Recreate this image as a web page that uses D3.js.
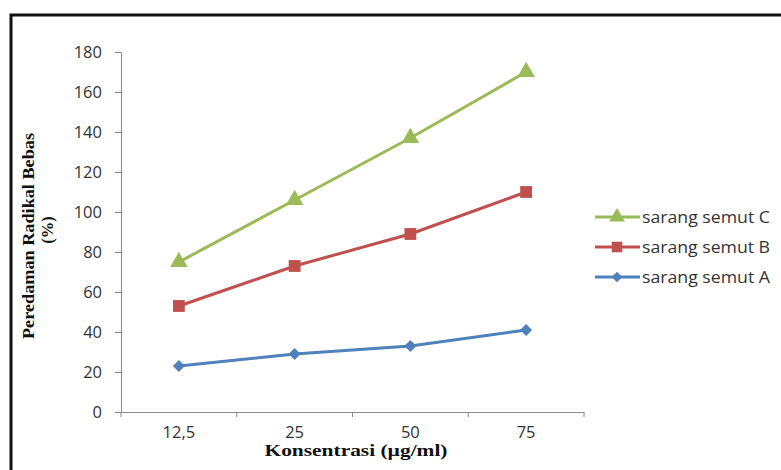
<!DOCTYPE html>
<html>
<head>
<meta charset="utf-8">
<script src="https://d3js.org/d3.v7.min.js"></script>
<style>
    body { margin: 0; background: #fff; }
    .tick text { font-family: "Open Sans", sans-serif; font-size: 16.5px; fill: #333; }
    .axis-title { font-family: "Liberation Serif", "Times New Roman", serif; font-weight: bold; fill: #111; }
    .legend text { font-family: "Open Sans", sans-serif; font-size: 16px; fill: #333; }
</style>
</head>
<body>
<script>
    // data
    var categories = ["12,5", "25", "50", "75"];
    var seriesNames = ["sarang semut C", "sarang semut B", "sarang semut A"];
    var valuesC = [75, 106, 137, 170];
    var valuesB = [53, 73, 89, 110];
    var valuesA = [23, 29, 33, 41];
    var yTicks = [0, 20, 40, 60, 80, 100, 120, 140, 160, 180];

    var width = 781, height = 470;
    var plot = { left: 121, right: 584, top: 52, bottom: 412 };

    var series = [
        { name: seriesNames[0], values: valuesC, color: "#9BBB59", shape: d3.symbolTriangle, size: 135, rot: 0 },
        { name: seriesNames[1], values: valuesB, color: "#C0504D", shape: d3.symbolSquare, size: 140, rot: 0 },
        { name: seriesNames[2], values: valuesA, color: "#4F81BD", shape: d3.symbolSquare, size: 72, rot: 45 }
    ];

    var svg = d3.select("body").append("svg")
        .attr("width", width)
        .attr("height", height);

    svg.append("rect")
        .attr("width", width).attr("height", height)
        .attr("fill", "#fff");

    // frame (right & bottom edges fall outside the picture)
    svg.append("rect")
        .attr("x", 11).attr("y", 15)
        .attr("width", 820).attr("height", 520)
        .attr("fill", "none")
        .attr("stroke", "#111")
        .attr("stroke-width", 3);

    var x = d3.scaleBand()
        .domain(categories)
        .range([plot.left, plot.right]);

    var y = d3.scaleLinear()
        .domain([0, 180])
        .range([plot.bottom, plot.top]);

    // y axis
    var yAxis = svg.append("g")
        .attr("transform", "translate(" + plot.left + ",0)")
        .call(d3.axisLeft(y).tickValues(yTicks).tickSize(6).tickPadding(13));
    yAxis.selectAll("line, path").attr("stroke", "#8a8a8a");

    // x axis: labels centred, ticks on the category boundaries
    var xAxis = svg.append("g")
        .attr("transform", "translate(0," + plot.bottom + ")")
        .call(d3.axisBottom(x).tickSize(0).tickPadding(14));
    xAxis.select("path").attr("stroke", "#8a8a8a");
    xAxis.selectAll(".boundary")
        .data(d3.range(categories.length + 1))
        .enter().append("line")
        .attr("x1", function (i) { return plot.left + i * x.step(); })
        .attr("x2", function (i) { return plot.left + i * x.step(); })
        .attr("y1", 0).attr("y2", 5)
        .attr("stroke", "#8a8a8a");

    // axis titles
    svg.append("text")
        .attr("class", "axis-title")
        .attr("x", 356).attr("y", 456)
        .attr("text-anchor", "middle")
        .attr("font-size", 16)
        .attr("textLength", 183)
        .attr("lengthAdjust", "spacingAndGlyphs")
        .text("Konsentrasi (µg/ml)");

    var yTitle = svg.append("g")
        .attr("transform", "translate(34,236) rotate(-90)");
    yTitle.append("text")
        .attr("class", "axis-title")
        .attr("text-anchor", "middle")
        .attr("font-size", 16.5)
        .attr("textLength", 206)
        .attr("lengthAdjust", "spacingAndGlyphs")
        .text("Peredaman Radikal Bebas");
    yTitle.append("text")
        .attr("class", "axis-title")
        .attr("y", 19)
        .attr("x", 6)
        .attr("text-anchor", "middle")
        .attr("font-size", 16.5)
        .text("(%)");

    var line = d3.line()
        .x(function (d, i) { return x(categories[i]) + x.bandwidth() / 2; })
        .y(function (d) { return y(d); });

    series.forEach(function (s) {
        var g = svg.append("g");
        g.append("path")
            .datum(s.values)
            .attr("d", line)
            .attr("fill", "none")
            .attr("stroke", s.color)
            .attr("stroke-width", 3);
        g.selectAll("path.marker")
            .data(s.values)
            .enter().append("path")
            .attr("class", "marker")
            .attr("transform", function (d, i) {
                return "translate(" + (x(categories[i]) + x.bandwidth() / 2) + "," + y(d) + ") rotate(" + s.rot + ")";
            })
            .attr("d", d3.symbol().type(s.shape).size(s.size))
            .attr("fill", s.color);
    });

    // legend
    var legend = svg.append("g").attr("class", "legend");
    var rows = legend.selectAll("g")
        .data(series)
        .enter().append("g")
        .attr("transform", function (d, i) { return "translate(595," + (217 + i * 30) + ")"; });
    rows.append("line")
        .attr("x1", 0).attr("x2", 45)
        .attr("stroke", function (d) { return d.color; })
        .attr("stroke-width", 3);
    rows.append("path")
        .attr("transform", function (d) { return "translate(22,0) rotate(" + d.rot + ")"; })
        .attr("d", function (d) { return d3.symbol().type(d.shape).size(d.size * 0.8)(); })
        .attr("fill", function (d) { return d.color; });
    rows.append("text")
        .attr("x", 47)
        .attr("dy", "0.35em")
        .attr("textLength", 128)
        .attr("lengthAdjust", "spacingAndGlyphs")
        .text(function (d) { return d.name; });
</script>
</body>
</html>
